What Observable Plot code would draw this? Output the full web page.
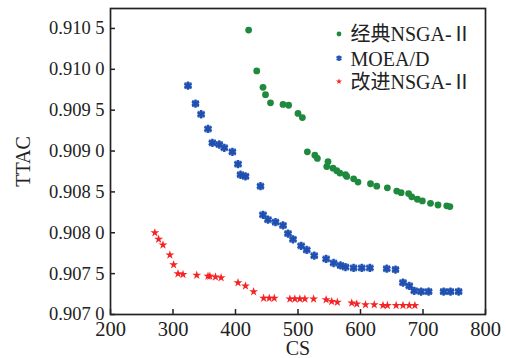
<!DOCTYPE html>
<html>
<head>
<meta charset="utf-8">
<script src="https://cdn.jsdelivr.net/npm/d3@7"></script>
<script src="https://cdn.jsdelivr.net/npm/@observablehq/plot@0.6"></script>
<style>
  html, body { margin: 0; padding: 0; background: #fff; }
  #chart { width: 506px; height: 358px; }
</style>
</head>
<body>
<div id="chart"></div>
<script>
const xTicks = [200, 300, 400, 500, 600, 700, 800];
const yTicks = [0.907, 0.9075, 0.908, 0.9085, 0.909, 0.9095, 0.910, 0.9105];
const seriesNames = ["经典NSGA-Ⅱ", "MOEA/D", "改进NSGA-Ⅱ"];
const xLabel = "CS";
const yLabel = "TTAC";

const classicX = [421, 434, 444, 448, 456, 476, 485, 500, 507, 515, 527, 531, 548, 546, 556, 562, 567, 576, 578, 589, 596, 616, 626, 643, 658, 665, 677, 682, 691, 699, 712, 724, 738, 743];
const classicY = [0.91048, 0.90998, 0.90978, 0.90969, 0.90959, 0.90957, 0.90956, 0.90946, 0.90941, 0.90899, 0.90895, 0.90891, 0.90887, 0.90881, 0.90879, 0.90876, 0.90873, 0.90871, 0.90869, 0.90866, 0.90862, 0.90860, 0.90857, 0.90855, 0.90851, 0.90849, 0.90848, 0.90844, 0.90841, 0.90839, 0.90836, 0.90834, 0.90833, 0.90832];

const moeadX = [324, 336, 345, 356, 363, 374, 382, 395, 404, 408, 416, 440, 444, 452, 464, 476, 484, 492, 505, 514, 526, 545, 557, 568, 576, 589, 602, 615, 642, 656, 668, 678, 686, 697, 709, 733, 744, 757];
const moeadY = [0.90980, 0.90958, 0.90945, 0.90927, 0.90910, 0.90908, 0.90904, 0.90899, 0.90884, 0.90871, 0.90869, 0.90857, 0.90822, 0.90816, 0.90813, 0.90809, 0.90799, 0.90792, 0.90784, 0.90779, 0.90772, 0.90768, 0.90763, 0.90760, 0.90758, 0.90757, 0.90757, 0.90757, 0.90756, 0.90755, 0.90739, 0.90735, 0.90729, 0.90728, 0.90728, 0.90728, 0.90728, 0.90728];

const improvedX = [271, 277, 284, 295, 301, 308, 316, 338, 356, 359, 368, 377, 404, 416, 429, 445, 454, 462, 487, 495, 503, 511, 525, 545, 554, 563, 586, 594, 608, 622, 636, 643, 657, 668, 678, 687];
const improvedY = [0.90800, 0.90792, 0.90785, 0.90773, 0.90761, 0.90750, 0.90749, 0.90748, 0.90747, 0.90747, 0.90746, 0.90745, 0.90739, 0.90735, 0.90728, 0.90720, 0.90720, 0.90720, 0.90719, 0.90719, 0.90719, 0.90719, 0.90719, 0.90718, 0.90716, 0.90715, 0.90714, 0.90713, 0.90712, 0.90712, 0.90711, 0.90711, 0.90711, 0.90711, 0.90711, 0.90711];

const colors = ["#1f8a3e", "#1f50b0", "#f52424"];
const fontFamily = '"Liberation Serif", "Times New Roman", "Noto Sans CJK SC", serif';

const toRows = (xs, ys) => xs.map((x, i) => ({x, y: ys[i]}));
const classic = toRows(classicX, classicY);
const moead = toRows(moeadX, moeadY);
const improved = toRows(improvedX, improvedY);

const fmtY = d => { const s = d.toFixed(4); return s.slice(0, 5) + " " + s.slice(5); };

const legendMarks = [];
const rowDy = [25.5, 49.7, 73];
seriesNames.forEach((name, i) => {
  const base = {frameAnchor: "top-left", dx: 228.5, dy: rowDy[i]};
  if (i === 0) legendMarks.push(Plot.dot([name], {...base, r: 2.4, fill: colors[0]}));
  if (i === 1) {
    legendMarks.push(Plot.dot([name], {...base, symbol: "square", r: 2.6, fill: "#5f86d6"}));
    legendMarks.push(Plot.dot([name], {...base, symbol: "asterisk", r: 2.6, stroke: colors[1], strokeWidth: 1.6}));
  }
  if (i === 2) legendMarks.push(Plot.dot([name], {...base, symbol: "star", r: 1.9, fill: colors[2]}));
  legendMarks.push(Plot.text([name], {frameAnchor: "top-left", dx: 240, dy: rowDy[i] + 1, text: d => d, textAnchor: "start", lineAnchor: "middle", fontSize: 20, fontFamily, fill: "#222"}));
});

const chart = Plot.plot({
  width: 506,
  height: 358,
  marginLeft: 110,
  marginRight: 21,
  marginTop: 8,
  marginBottom: 44,
  x: {domain: [200, 800]},
  y: {domain: [0.907, 0.910744]},
  style: {fontFamily, fontSize: "20px", color: "#222", background: "#fff", overflow: "visible"},
  marks: [
    Plot.frame({stroke: "#222", strokeWidth: 1.7}),
    // inward ticks
    Plot.axisX({ticks: xTicks, tickSize: 5, dy: -5, tickFormat: () => "", label: null, strokeWidth: 1.5, stroke: "#222"}),
    Plot.axisY({ticks: yTicks, tickSize: 5, dx: 5, tickFormat: () => "", label: null, strokeWidth: 1.5, stroke: "#222"}),
    // tick labels
    Plot.text(xTicks, {x: d => d, frameAnchor: "bottom", dy: 7, lineAnchor: "top", text: d => String(d), fontSize: 20.5, fontFamily, fill: "#222"}),
    Plot.text(yTicks, {y: d => d, frameAnchor: "left", dx: -6, textAnchor: "end", lineAnchor: "middle", text: fmtY, fontSize: 18.5, fontFamily, fill: "#222"}),
    // axis titles
    Plot.axisX({ticks: [], tickSize: 0, label: xLabel, labelAnchor: "center", labelOffset: 40.5, labelArrow: "none", fontSize: 20, fontFamily, fill: "#222"}),
    Plot.axisY({ticks: [], tickSize: 0, label: yLabel, labelAnchor: "center", labelOffset: 95, labelArrow: "none", fontSize: 20, fontFamily, fill: "#222"}),
    // data
    Plot.dot(classic, {x: "x", y: "y", r: 3.4, fill: colors[0]}),
    Plot.dot(moead, {x: "x", y: "y", symbol: "square", r: 3.9, fill: "#5f86d6"}),
    Plot.dot(moead, {x: "x", y: "y", symbol: "asterisk", r: 3.9, stroke: colors[1], strokeWidth: 2.2}),
    Plot.dot(improved, {x: "x", y: "y", symbol: "star", r: 2.8, fill: colors[2]}),
    ...legendMarks
  ]
});
document.getElementById("chart").appendChild(chart);
</script>
</body>
</html>
